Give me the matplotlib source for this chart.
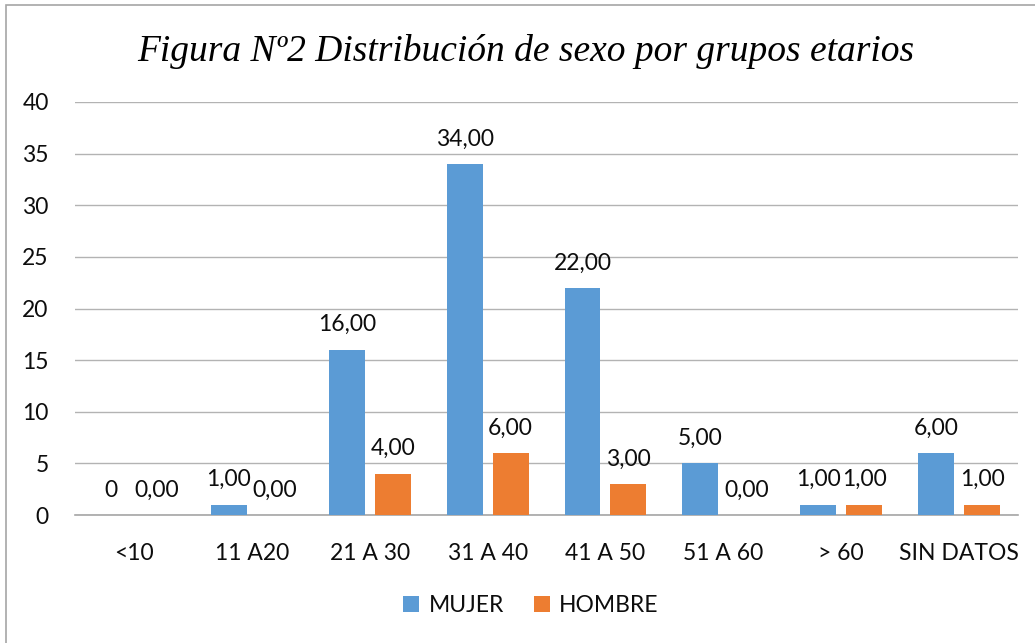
import numpy as np
import matplotlib.pyplot as plt
from matplotlib.patches import Rectangle

categories = ["<10", "11 A20", "21 A 30", "31 A 40", "41 A 50", "51 A 60", "> 60", "SIN DATOS"]
mujer = [0, 1, 16, 34, 22, 5, 1, 6]
hombre = [0, 0, 4, 6, 3, 0, 1, 1]
mujer_labels = ["0", "1,00", "16,00", "34,00", "22,00", "5,00", "1,00", "6,00"]
hombre_labels = ["0,00", "0,00", "4,00", "6,00", "3,00", "0,00", "1,00", "1,00"]
yticks = [0, 5, 10, 15, 20, 25, 30, 35, 40]

blue = "#5B9BD5"
orange = "#ED7D31"
text_color = "#0d0d0d"
fs = 16.5
plt.rcParams["font.family"] = ["Lato", "DejaVu Sans"]

fig = plt.figure(figsize=(10.35, 6.43), dpi=100)
ax = fig.add_axes([0.0725, 0.199, 0.9111, 0.6424])

# outer chart border
fig.patches.append(Rectangle((6 / 1035, -0.1), 1.2, 1.1 - 5 / 643, transform=fig.transFigure,
                             fill=False, edgecolor="#a6a6a6", linewidth=1.2))

x = np.arange(len(categories))
w = 0.305
off = 0.195
b1 = ax.bar(x - off, mujer, w, color=blue, label="MUJER", zorder=3)
b2 = ax.bar(x + off, hombre, w, color=orange, label="HOMBRE", zorder=3)

for bars, labels in ((b1, mujer_labels), (b2, hombre_labels)):
    for bar, lab in zip(bars, labels):
        ax.annotate(lab, (bar.get_x() + bar.get_width() / 2, bar.get_height()),
                    xytext=(0, 18), textcoords="offset points", ha="center", va="center",
                    fontsize=fs, color=text_color)

ax.set_xlim(-0.5, len(categories) - 0.5)
ax.set_ylim(0, 40)
ax.set_yticks(yticks)
ax.set_xticks(x)
ax.set_xticklabels(categories)
ax.yaxis.grid(True, color="#b3b3b3", linewidth=1.0, zorder=0)
ax.set_axisbelow(True)
for s in ["top", "right", "left"]:
    ax.spines[s].set_visible(False)
ax.spines["bottom"].set_color("#a6a6a6")
ax.spines["bottom"].set_linewidth(1.2)
ax.tick_params(axis="both", length=0, labelsize=fs, colors=text_color)
ax.tick_params(axis="y", pad=19)
ax.tick_params(axis="x", pad=20)

fig.text(0.508, 0.920, "Figura Nº2 Distribución de sexo por grupos etarios",
         family="Liberation Serif", style="italic", fontsize=27, ha="center", va="center",
         color="black")

fig.legend(handles=[b1, b2], loc="center", bbox_to_anchor=(0.513, 0.059), ncol=2,
           frameon=False, fontsize=fs, handlelength=0.7, handleheight=0.7,
           handletextpad=0.4, columnspacing=1.3, labelcolor=text_color)

fig.savefig("out.png", dpi=100)
